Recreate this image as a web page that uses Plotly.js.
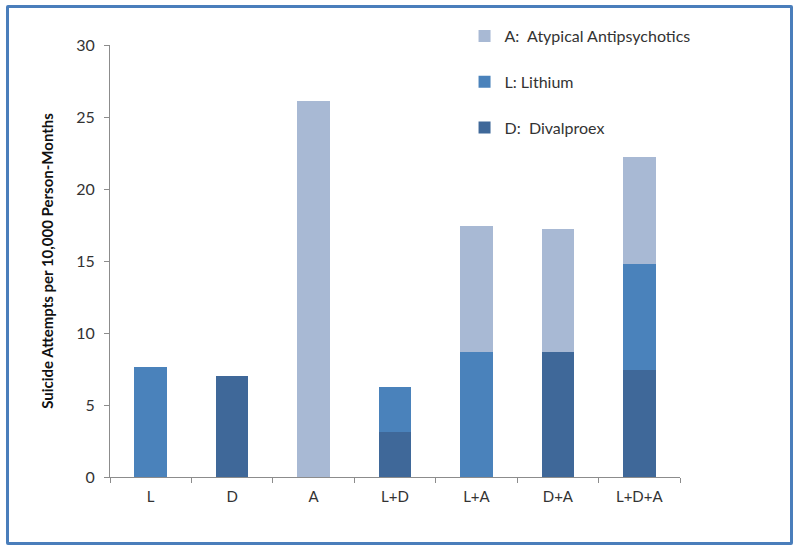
<!DOCTYPE html>
<html>
<head>
<meta charset="utf-8">
<script src="https://cdn.plot.ly/plotly-3.0.1.min.js"></script>
<style>
  html, body { margin: 0; padding: 0; background: #fff; }
  #wrap { position: relative; width: 800px; height: 551px; }
  #chart { width: 800px; height: 551px; }
  #frame { position: absolute; left: 6px; top: 5px; width: 781px; height: 534px;
           border: 3px solid #4a7ebb; border-radius: 2px; pointer-events: none; }
</style>
</head>
<body>
<div id="wrap">
  <div id="chart"></div>
  <div id="frame"></div>
</div>
<script>
const categories = ["L", "D", "A", "L+D", "L+A", "D+A", "L+D+A"];
const divalproex = [0, 7.0, 0, 3.15, 0, 8.65, 7.4];
const lithium    = [7.65, 0, 0, 3.1, 8.7, 0, 7.4];
const atypical   = [0, 0, 26.1, 0, 8.7, 8.6, 7.4];
const seriesNames = ["D:  Divalproex", "L: Lithium", "A:  Atypical Antipsychotics"];
const seriesColors = ["#3f6899", "#4a82bb", "#a8b9d4"];
const yTicks = [0, 5, 10, 15, 20, 25, 30];

const values = [divalproex, lithium, atypical];
const traces = values.map((v, i) => ({
  type: "bar",
  x: categories,
  y: v,
  name: seriesNames[i],
  legendgroup: "g" + i,
  legendrank: 1000 - i,
  marker: { color: seriesColors[i], line: { width: 0 } },
  hoverinfo: "x+y+name"
}));

const font = "Lato, 'Open Sans', sans-serif";
const layout = {
  width: 800, height: 551,
  margin: { l: 110, r: 120, t: 45, b: 74 },
  paper_bgcolor: "#ffffff",
  plot_bgcolor: "#ffffff",
  barmode: "stack",
  bargap: 0.6,
  showlegend: true,
  legend: {
    x: 0.622, y: 1.06, xanchor: "left", yanchor: "top",
    traceorder: "grouped",
    tracegroupgap: 22,
    font: { family: font, size: 16, color: "#333333" },
    bgcolor: "rgba(0,0,0,0)",
    itemwidth: 30
  },
  xaxis: {
    type: "category",
    range: [-0.5, 6.5],
    showline: true, linecolor: "#8c8c8c", linewidth: 1,
    ticks: "outside", ticklen: 5, tickcolor: "#8c8c8c",
    tickson: "boundaries",
    showgrid: false, zeroline: false,
    tickfont: { family: font, size: 15, color: "#333333" },
    ticklabelstandoff: 6
  },
  yaxis: {
    range: [0, 30],
    tickvals: yTicks,
    ticktext: yTicks.map(String),
    showline: true, linecolor: "#8c8c8c", linewidth: 1,
    ticks: "outside", ticklen: 5, tickcolor: "#8c8c8c",
    showgrid: false, zeroline: false,
    tickfont: { family: font, size: 16, color: "#333333" },
    ticklabelstandoff: 6,
    title: {
      text: "Suicide Attempts per 10,000 Person-Months",
      font: { family: font, size: 15, color: "#111111", weight: "bold" },
      standoff: 18
    }
  }
};

Plotly.newPlot("chart", traces, layout, { displayModeBar: false, staticPlot: true });
</script>
</body>
</html>
